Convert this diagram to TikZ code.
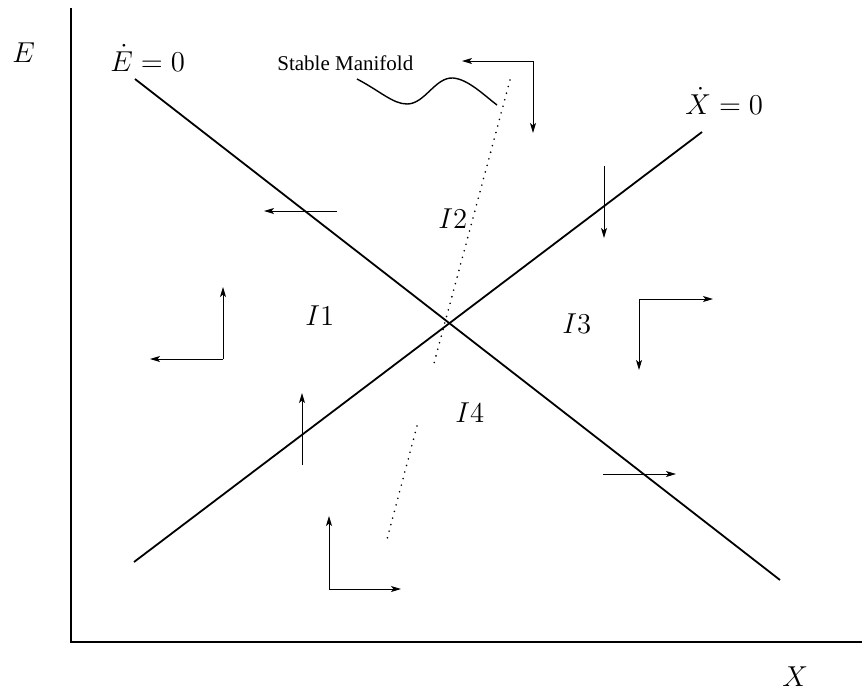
\documentclass[tikz,border=0pt]{standalone}
\usepackage{fontspec}
\newfontfamily\timesfont{Liberation Serif}
\usetikzlibrary{arrows.meta}
\begin{document}
\begin{tikzpicture}[x=0.5pt,y=-0.5pt,
  axis/.style={line width=0.7pt},
  curveline/.style={line width=0.9pt},
  flow/.style={line width=0.5pt,-{Stealth[length=5pt,width=3pt,inset=1.2pt]}},
  manifold/.style={line width=0.9pt,line cap=round,dash pattern=on 0pt off 3.4pt},
  biglabel/.style={inner sep=0pt,font=\fontsize{14.5}{17}\selectfont},
  reglabel/.style={inner sep=0pt,font=\fontsize{13.5}{16}\selectfont},
  smalllabel/.style={inner sep=0pt,font=\timesfont\fontsize{10.5}{12}\selectfont}]
\useasboundingbox (0,0) rectangle (862,692);
% axes
\coordinate (o) at (71,642);
\coordinate (ytop) at (71,8);
\coordinate (xend) at (862,642);
\draw[axis] (ytop) -- (o) -- (xend);
\node[biglabel,anchor=base west] (Elab) at (12,62) {$E$};
\node[biglabel,anchor=base west] (Xlab) at (782,686) {$X$};
% isoclines
\coordinate (e1) at (135,79);
\coordinate (e2) at (780,580);
\coordinate (x1) at (134,562);
\coordinate (x2) at (702,132);
\draw[curveline] (e1) -- (e2);
\draw[curveline] (x1) -- (x2);
\node[biglabel,anchor=base west] (Edot) at (110,71) {$\dot{E}=0$};
\node[biglabel,anchor=base west] (Xdot) at (685,114) {$\dot{X}=0$};
% stable manifold
\coordinate (s1) at (510,80);
\coordinate (s2) at (433,367);
\coordinate (s3) at (417,426);
\coordinate (s4) at (386,543);
\draw[manifold] (s1) -- (s2);
\draw[manifold] (s3) -- (s4);
\node[smalllabel,anchor=base west] (smlab) at (277,70) {Stable Manifold};
\coordinate (w0) at (357,79);
\coordinate (w1) at (407,104);
\coordinate (w2) at (453,78);
\coordinate (w3) at (497,105);
\draw[line width=0.7pt] (w0) .. controls (380,91) and (393,104) .. (w1)
  .. controls (425,104) and (435,77) .. (w2)
  .. controls (468,79) and (485,96) .. (w3);
% region labels
\node[reglabel,anchor=base west] (I1) at (305,325) {$I1$};
\node[reglabel,anchor=base west] (I2) at (438,228) {$I2$};
\node[reglabel,anchor=base west] (I3) at (562,333) {$I3$};
\node[reglabel,anchor=base west] (I4) at (455,422) {$I4$};
% direction arrows
\coordinate (a0) at (533,61);
\coordinate (a1) at (462,61);
\coordinate (a2) at (533,133);
\draw[flow] (a0) -- (a1);
\draw[flow] (a0) -- (a2);
\coordinate (b0) at (337,211);
\coordinate (b1) at (264,211);
\draw[flow] (b0) -- (b1);
\coordinate (c0) at (604,166);
\coordinate (c1) at (604,238);
\draw[flow] (c0) -- (c1);
\coordinate (d0) at (223,359);
\coordinate (d1) at (223,287);
\coordinate (d2) at (150,359);
\draw[flow] (d0) -- (d1);
\draw[flow] (d0) -- (d2);
\coordinate (f0) at (639,299);
\coordinate (f1) at (713,299);
\coordinate (f2) at (639,370);
\draw[flow] (f0) -- (f1);
\draw[flow] (f0) -- (f2);
\coordinate (g0) at (302,465);
\coordinate (g1) at (302,393);
\draw[flow] (g0) -- (g1);
\coordinate (h0) at (603,474);
\coordinate (h1) at (676,474);
\draw[flow] (h0) -- (h1);
\coordinate (k0) at (329,589);
\coordinate (k1) at (329,516);
\coordinate (k2) at (401,589);
\draw[flow] (k0) -- (k1);
\draw[flow] (k0) -- (k2);
\end{tikzpicture}
\end{document}
